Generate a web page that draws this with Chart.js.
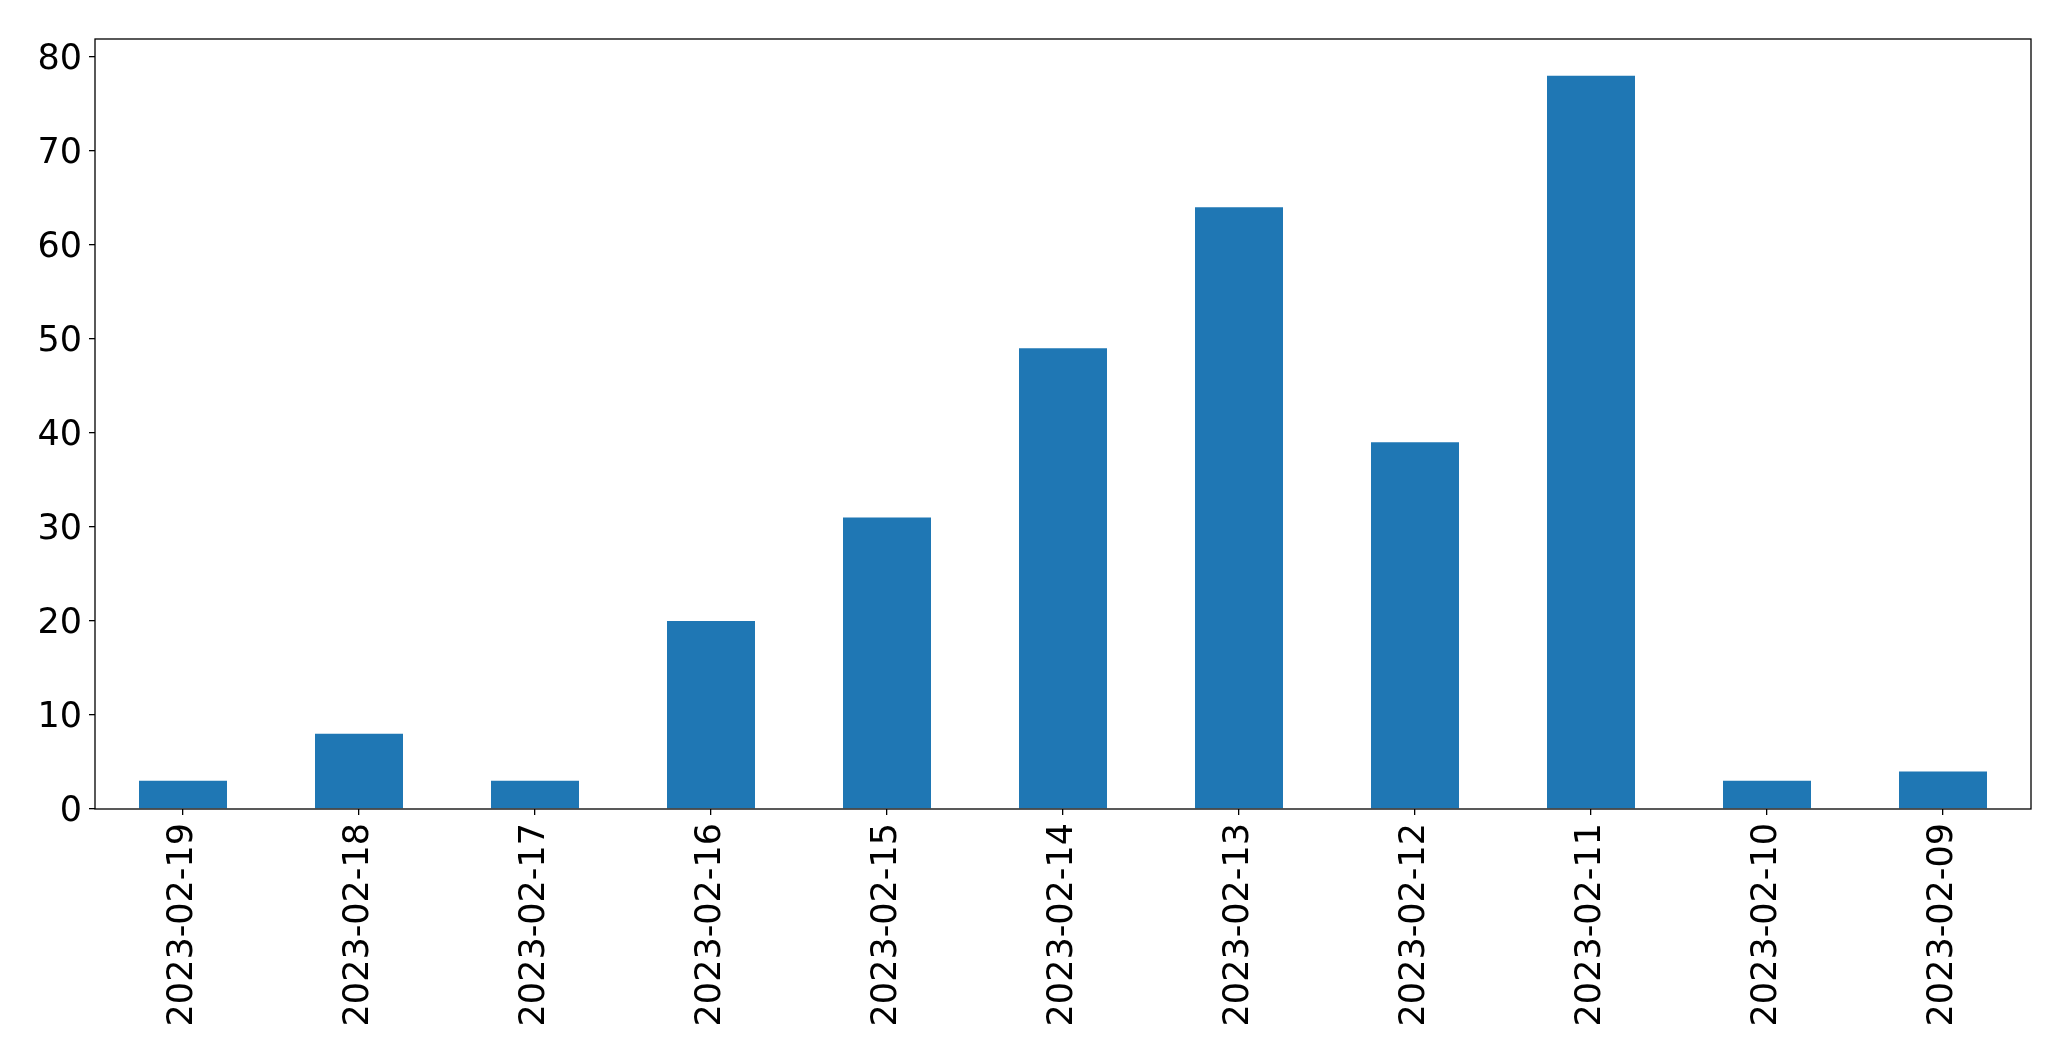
<!DOCTYPE html>
<html>
<head>
<meta charset="utf-8">
<script src="https://cdn.jsdelivr.net/npm/chart.js@4/dist/chart.umd.min.js"></script>
<style>
html,body{margin:0;padding:0;background:#fff;}
#wrap{width:2071px;height:1061px;position:relative;}
</style>
</head>
<body>
<div id="wrap"><canvas id="c" width="2071" height="1061"></canvas></div>
<script>
const categories = ["2023-02-19","2023-02-18","2023-02-17","2023-02-16","2023-02-15","2023-02-14","2023-02-13","2023-02-12","2023-02-11","2023-02-10","2023-02-09"];
const counts = [3, 8, 3, 20, 31, 49, 64, 39, 78, 3, 4];
const yTickValues = [0, 10, 20, 30, 40, 50, 60, 70, 80];
const yMax = 81.9;

const frame = {
  id: 'frame',
  afterDatasetsDraw(chart) {
    const a = chart.chartArea, ctx = chart.ctx;
    ctx.save();
    ctx.strokeStyle = '#000';
    ctx.lineWidth = 1.3;
    ctx.strokeRect(a.left, a.top, a.right - a.left, a.bottom - a.top);
    ctx.restore();
  }
};

const font = { family: 'DejaVu Sans', size: 35 };

new Chart(document.getElementById('c'), {
  type: 'bar',
  data: {
    labels: categories,
    datasets: [{
      data: counts,
      backgroundColor: '#1f77b4',
      borderWidth: 0,
      barPercentage: 0.5,
      categoryPercentage: 1.0
    }]
  },
  options: {
    responsive: false,
    animation: false,
    devicePixelRatio: 1,
    layout: { padding: { left: 0, top: 39, right: 40, bottom: 0 } },
    plugins: { legend: { display: false }, tooltip: { enabled: false } },
    scales: {
      x: {
        offset: true,
        grid: { display: true, offset: false, drawOnChartArea: false, tickLength: 6, color: '#000', lineWidth: 1.3 },
        border: { display: false },
        ticks: { color: '#000', font: font, autoSkip: false, maxRotation: 90, minRotation: 90, padding: 8 },
        afterFit(s) { s.height = 252; }
      },
      y: {
        min: 0,
        max: yMax,
        grid: { display: true, drawOnChartArea: false, tickLength: 6, color: '#000', lineWidth: 1.3 },
        border: { display: false },
        ticks: { color: '#000', font: font, padding: 7, labelOffset: 3 },
        afterBuildTicks(s) { s.ticks = yTickValues.map(v => ({ value: v })); },
        afterFit(s) { s.width = 95; }
      }
    }
  },
  plugins: [frame]
});
</script>
</body>
</html>
